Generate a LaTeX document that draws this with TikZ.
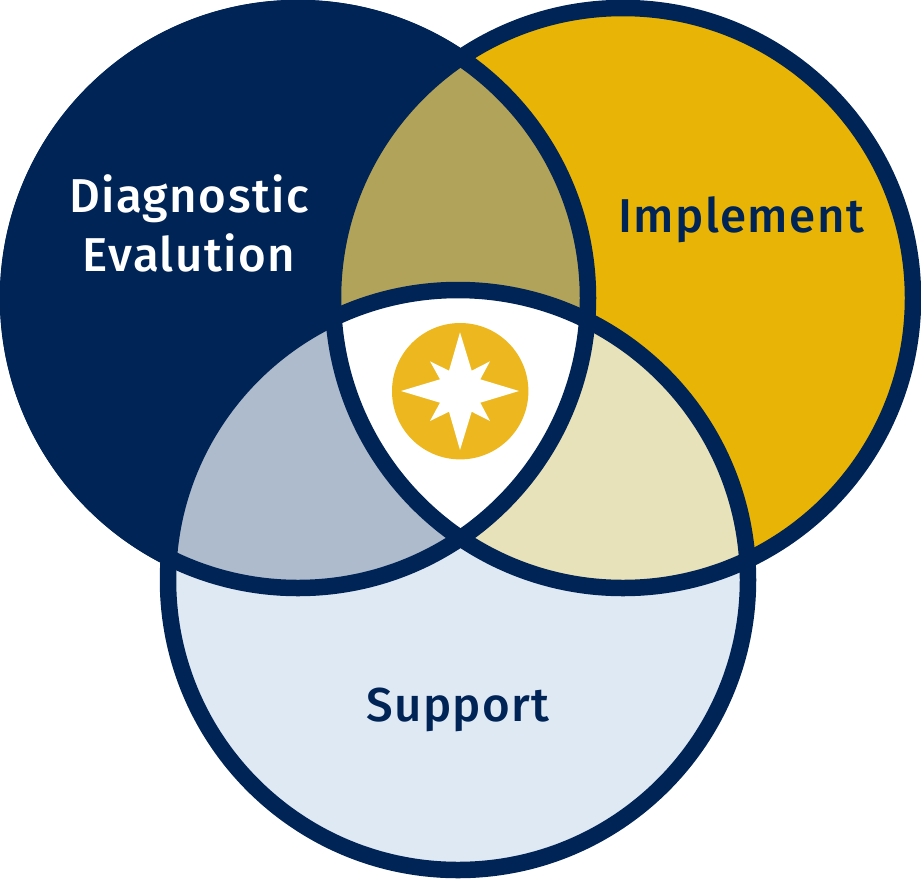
\documentclass[tikz,border=0pt]{standalone}
\usepackage{fontspec}
\setmainfont{Fira Sans}[UprightFont=* Medium]
\definecolor{navy}{HTML}{012456}
\definecolor{gold}{HTML}{E8B406}
\definecolor{olive}{HTML}{B2A35A}
\definecolor{steel}{HTML}{ADBBCC}
\definecolor{cream}{HTML}{E8E2BA}
\definecolor{pale}{HTML}{DFE9F3}
\definecolor{medal}{HTML}{EDB81F}
\begin{document}
\begin{tikzpicture}[x=1pt,y=-1pt]
    \tikzset{ring/.style={draw=navy, line width=16.5pt},
        lab/.style={font=\fontsize{47.5}{59}\selectfont\addfontfeatures{LetterSpace=3}, align=center, inner sep=0pt}}
    \useasboundingbox (0,0) rectangle (921,879);

    % Filled circles
    \fill[navy] (298,298) circle (298);
    \fill[gold] (623,298) circle (290);
    \fill[pale] (458,580) circle (290);

    % Overlap regions
    \begin{scope}
        \clip (298,298) circle (290);
        \fill[olive] (623,298) circle (290);
        \fill[steel] (458,580) circle (290);
    \end{scope}
    \begin{scope}
        \clip (623,298) circle (290);
        \fill[cream] (458,580) circle (290);
        \clip (298,298) circle (290);
        \fill[white] (458,580) circle (290);
    \end{scope}

    % Outlines
    \draw[ring] (298,298) circle (290);
    \draw[ring] (623,298) circle (290);
    \draw[ring] (458,580) circle (290);

    % Star in the middle
    \fill[medal] (460.2,391.2) circle (68.2);
    \fill[white] (460,332.3) -- (471.7,370.7) -- (490,361.3) -- (480.3,379.3) -- (519,391) -- (480.3,402.7) -- (490,421) -- (471.7,411.7)
        -- (460,450) -- (449,411.7) -- (430,421) -- (440,402.7) -- (401,391) -- (440,379.3) -- (430,361.3) -- (449,370.7) -- cycle;

    % Labels
    \node[lab, text=white] (diagnostic) at (189,223.5) {Diagnostic\\Evalution};
    \node[lab, text=navy] (implement) at (741,219.5) {Implement};
    \node[lab, text=navy] (support) at (458,710) {Support};
\end{tikzpicture}
\end{document}
